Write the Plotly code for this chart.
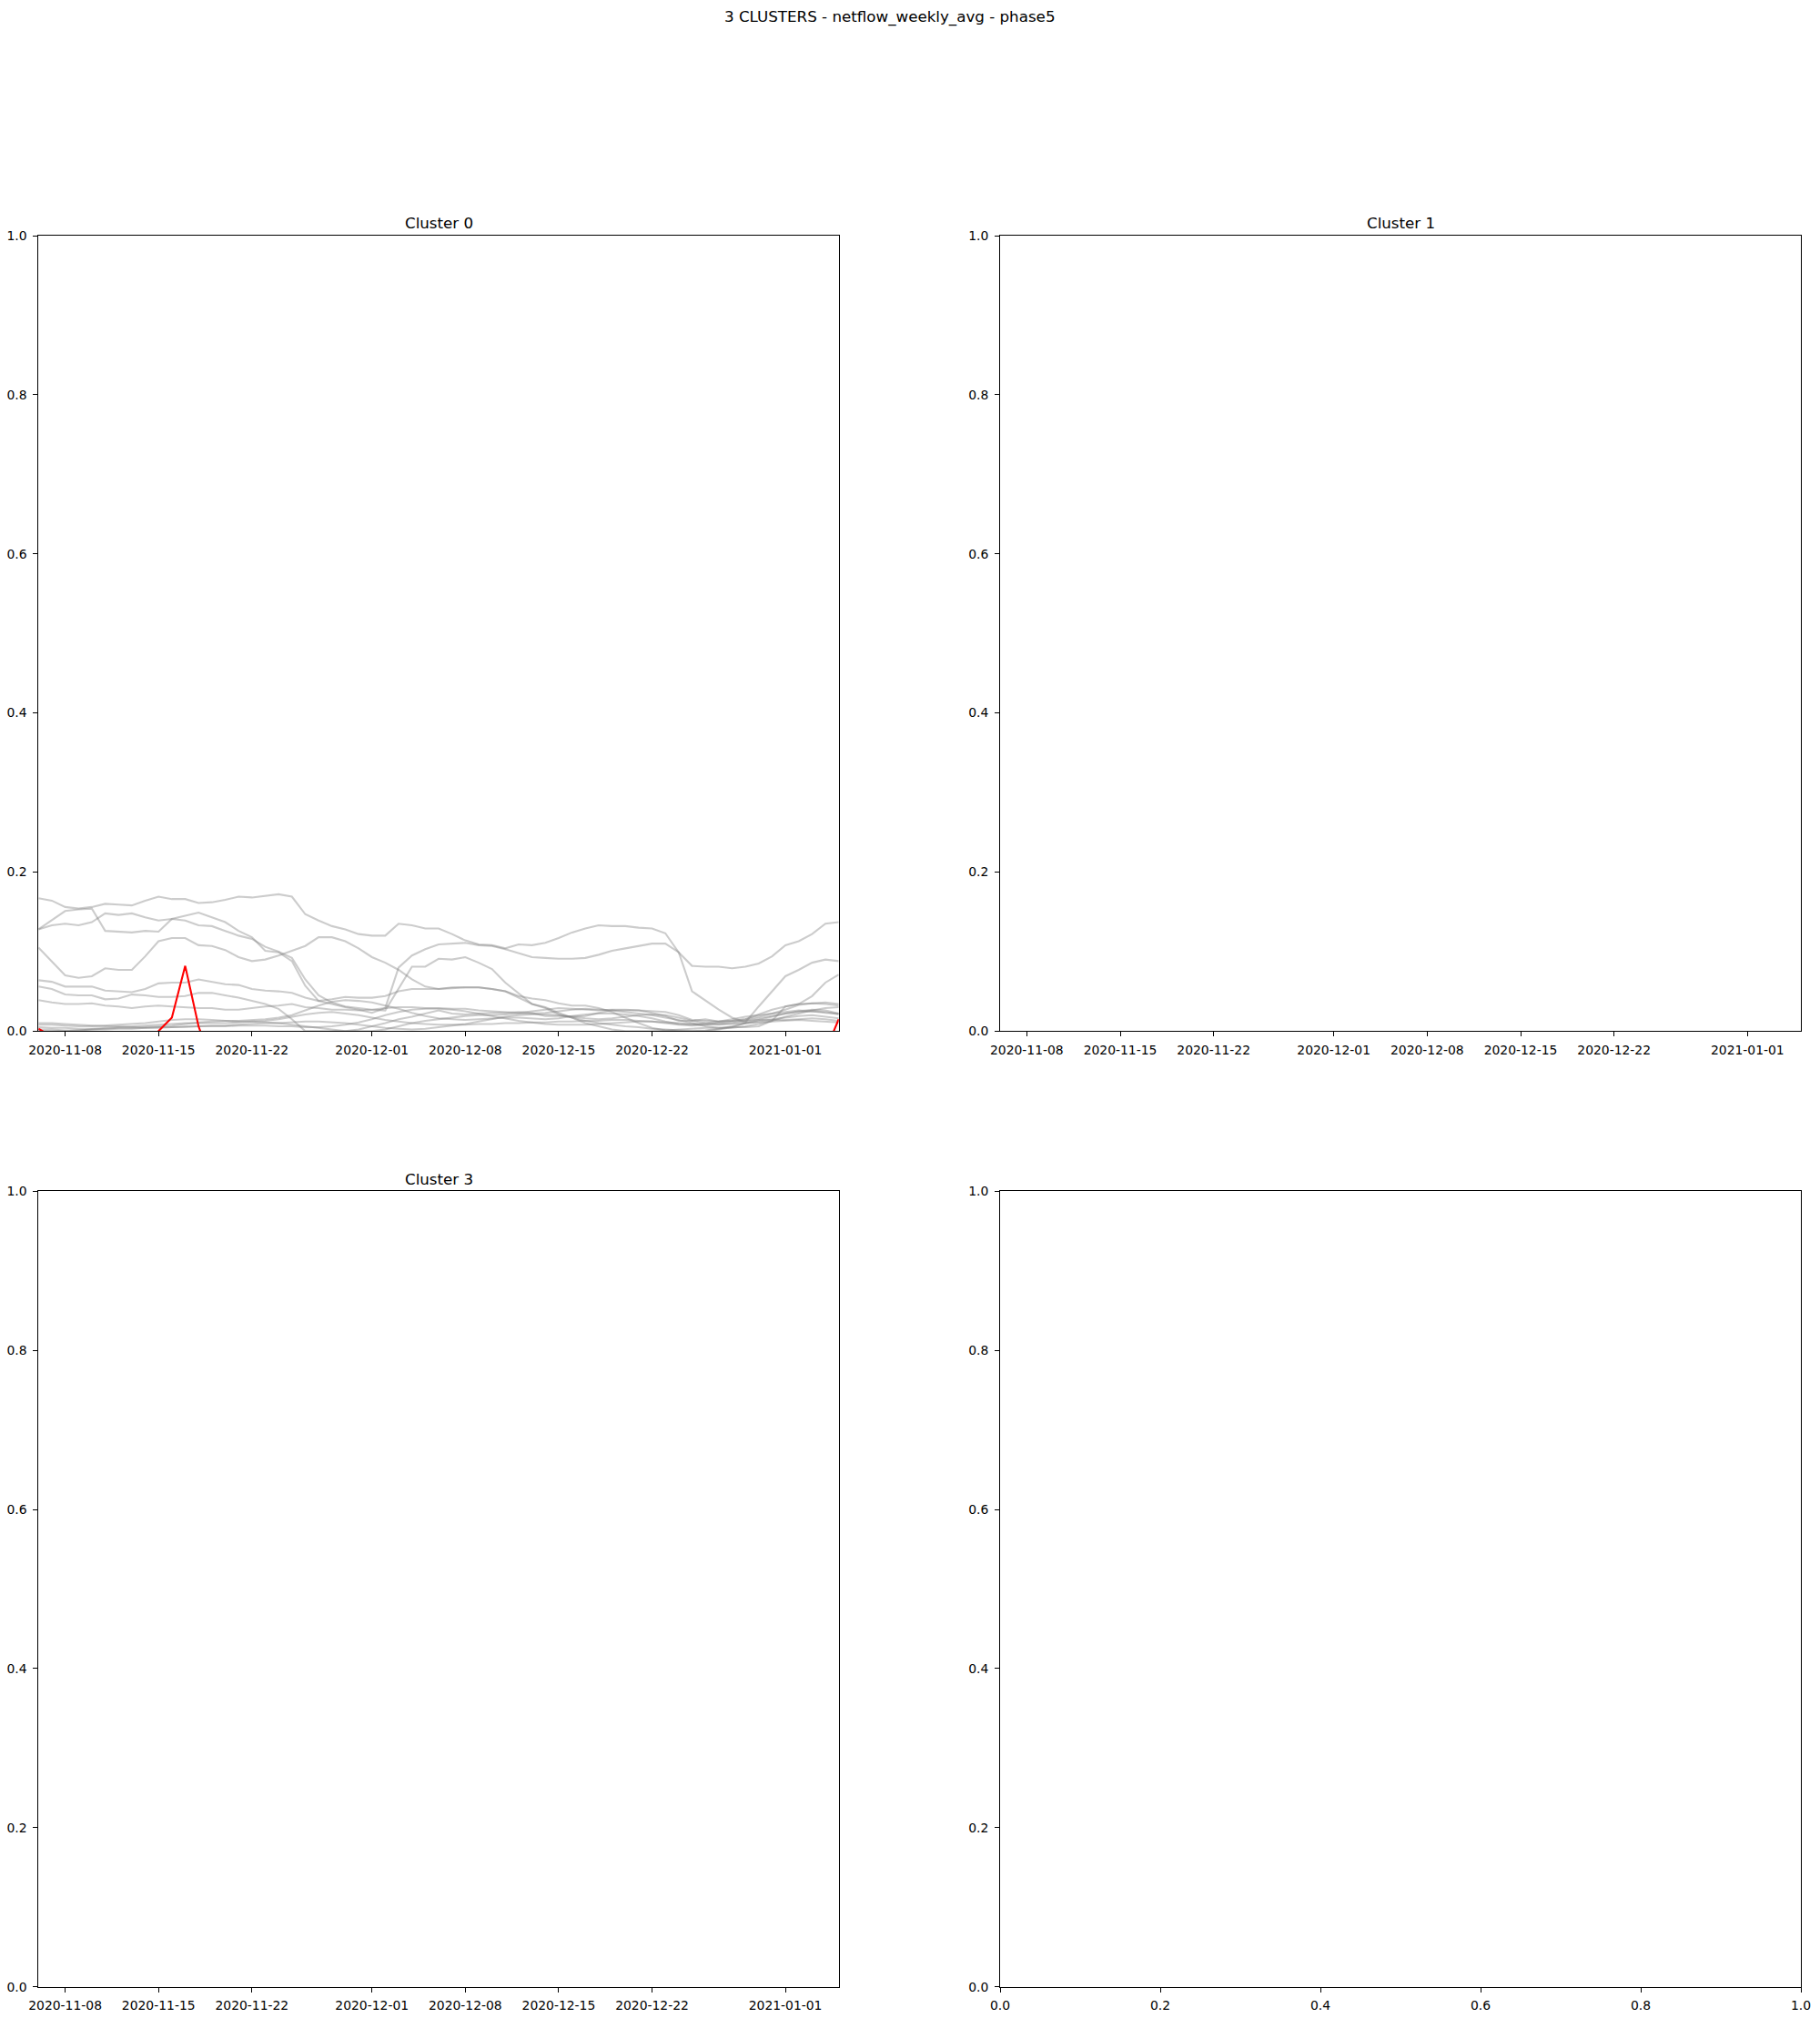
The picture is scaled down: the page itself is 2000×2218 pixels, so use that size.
import pandas as pd
import plotly.graph_objects as go

# ---------------- data ----------------
dates = pd.date_range("2020-11-06", "2021-01-05", freq="D")

series_a = [0.167,0.164,0.156,0.154,0.156,0.160,0.159,0.158,0.164,0.169,
            0.166,0.166,0.161,0.162,0.165,0.169,0.168,0.170,0.172,0.169,
            0.147,0.139,0.132,0.128,0.122,0.120,0.120,0.135,0.133,0.129,
            0.129,0.122,0.114,0.109,0.108,0.104,0.109,0.108,0.111,0.117,
            0.124,0.129,0.133,0.132,0.132,0.130,0.129,0.123,0.099,0.082,
            0.081,0.081,0.079,0.081,0.085,0.094,0.108,0.113,0.122,0.135,
            0.137]
series_b = [0.128,0.139,0.151,0.153,0.154,0.126,0.125,0.124,0.126,0.125,
            0.141,0.145,0.149,0.143,0.137,0.126,0.118,0.101,0.099,0.088,
            0.057,0.038,0.034,0.030,0.027,0.023,0.029,0.080,0.095,0.103,
            0.109,0.110,0.111,0.108,0.107,0.103,0.098,0.093,0.092,0.091,
            0.091,0.092,0.096,0.101,0.104,0.107,0.110,0.110,0.099,0.050,
            0.038,0.027,0.017,0.011,0.031,0.050,0.069,0.077,0.086,0.090,
            0.088]
series_b2 = [0.128,0.133,0.135,0.133,0.137,0.148,0.146,0.148,0.143,0.139,
             0.141,0.139,0.133,0.132,0.126,0.120,0.116,0.106,0.100,0.092,
             0.065,0.045,0.036,0.031,0.029,0.027,0.026,0.053,0.081,0.081,
             0.091,0.090,0.093,0.086,0.078,0.061,0.048,0.034,0.029,0.021,
             0.017,0.010,0.006,0.002,0.000,0.000,0.000,0.001,0.002,0.003,
             0.004,0.004,0.005,0.005,0.006,0.013,0.031,0.034,0.044,0.061,
             0.071]
series_c = [0.105,0.087,0.070,0.067,0.069,0.079,0.077,0.077,0.094,0.113,
            0.117,0.117,0.108,0.107,0.102,0.093,0.088,0.090,0.095,0.101,
            0.107,0.118,0.118,0.113,0.104,0.093,0.086,0.077,0.065,0.056,
            0.053,0.054,0.055,0.055,0.053,0.050,0.042,0.034,0.030,0.023,
            0.017,0.013,0.010,0.008,0.006,0.005,0.003,0.002,0.001,0.000,
            0.000,0.002,0.005,0.010,0.014,0.018,0.022,0.025,0.027,0.026,
            0.022]
series_d = [0.064,0.062,0.056,0.056,0.056,0.051,0.050,0.049,0.053,0.060,
            0.061,0.061,0.065,0.062,0.059,0.058,0.053,0.051,0.050,0.048,
            0.042,0.038,0.040,0.043,0.042,0.042,0.044,0.050,0.053,0.053,
            0.053,0.055,0.055,0.055,0.053,0.050,0.044,0.041,0.039,0.035,
            0.032,0.032,0.029,0.024,0.017,0.010,0.004,0.001,0.000,0.000,
            0.001,0.003,0.006,0.010,0.012,0.015,0.017,0.019,0.020,0.018,
            0.016]
series_e = [0.056,0.053,0.046,0.045,0.045,0.040,0.041,0.046,0.045,0.043,
            0.043,0.044,0.048,0.048,0.045,0.042,0.038,0.034,0.028,0.015,
            0.000,0.000,0.000,0.000,0.002,0.006,0.010,0.015,0.018,0.022,
            0.026,0.022,0.021,0.022,0.023,0.023,0.024,0.023,0.019,0.019,
            0.018,0.019,0.023,0.026,0.026,0.026,0.023,0.019,0.013,0.013,
            0.015,0.012,0.013,0.015,0.021,0.027,0.031,0.034,0.035,0.034,
            0.032]
series_f = [0.039,0.036,0.034,0.034,0.035,0.032,0.031,0.029,0.031,0.032,
            0.031,0.030,0.029,0.029,0.027,0.027,0.029,0.031,0.032,0.034,
            0.030,0.029,0.027,0.027,0.026,0.027,0.029,0.030,0.030,0.029,
            0.029,0.028,0.028,0.026,0.025,0.024,0.023,0.025,0.027,0.029,
            0.028,0.027,0.026,0.027,0.027,0.026,0.025,0.024,0.020,0.014,
            0.013,0.012,0.013,0.015,0.018,0.022,0.027,0.033,0.035,0.036,
            0.034]
series_g = [0.010,0.010,0.009,0.008,0.007,0.006,0.006,0.005,0.005,0.006,
            0.007,0.009,0.011,0.012,0.013,0.013,0.014,0.015,0.017,0.020,
            0.026,0.032,0.037,0.039,0.038,0.036,0.032,0.028,0.023,0.019,
            0.016,0.015,0.014,0.015,0.016,0.017,0.017,0.016,0.015,0.016,
            0.019,0.021,0.022,0.022,0.021,0.019,0.016,0.012,0.009,0.008,
            0.010,0.012,0.015,0.018,0.020,0.022,0.024,0.026,0.025,0.023,
            0.022]
series_h = [0.008,0.008,0.007,0.006,0.006,0.007,0.008,0.009,0.010,0.012,
            0.014,0.015,0.015,0.014,0.013,0.012,0.012,0.011,0.010,0.008,
            0.006,0.004,0.002,0.000,0.000,0.000,0.002,0.006,0.010,0.013,
            0.015,0.017,0.019,0.020,0.020,0.021,0.022,0.022,0.023,0.025,
            0.027,0.028,0.027,0.026,0.024,0.022,0.020,0.017,0.014,0.010,
            0.006,0.004,0.004,0.006,0.009,0.013,0.018,0.022,0.026,0.029,
            0.030]
series_i = [0.005,0.004,0.004,0.003,0.003,0.004,0.005,0.006,0.007,0.008,
            0.009,0.010,0.010,0.010,0.010,0.011,0.012,0.013,0.015,0.018,
            0.021,0.023,0.024,0.022,0.020,0.017,0.014,0.012,0.010,0.009,
            0.008,0.008,0.008,0.009,0.009,0.010,0.010,0.011,0.011,0.012,
            0.012,0.013,0.013,0.014,0.014,0.013,0.012,0.010,0.008,0.007,
            0.008,0.010,0.012,0.013,0.014,0.014,0.014,0.015,0.016,0.015,
            0.013]
series_j = [0.002,0.002,0.001,0.001,0.002,0.003,0.004,0.004,0.004,0.005,
            0.005,0.006,0.006,0.007,0.007,0.008,0.009,0.010,0.010,0.011,
            0.012,0.012,0.011,0.010,0.008,0.006,0.004,0.003,0.002,0.003,
            0.005,0.007,0.009,0.012,0.015,0.018,0.020,0.021,0.021,0.020,
            0.018,0.016,0.015,0.016,0.018,0.020,0.021,0.020,0.017,0.013,
            0.010,0.009,0.010,0.013,0.016,0.019,0.022,0.024,0.025,0.024,
            0.021]
series_k = [0.000,0.000,0.000,0.001,0.002,0.002,0.003,0.003,0.004,0.004,
            0.005,0.005,0.006,0.006,0.006,0.007,0.007,0.007,0.006,0.006,
            0.005,0.005,0.006,0.008,0.011,0.015,0.020,0.024,0.027,0.028,
            0.028,0.027,0.025,0.022,0.019,0.016,0.013,0.011,0.009,0.008,
            0.008,0.008,0.009,0.010,0.011,0.012,0.012,0.011,0.010,0.009,
            0.008,0.008,0.009,0.010,0.011,0.012,0.013,0.014,0.013,0.012,
            0.011]
centroid = [0.003,-0.007,-0.022,-0.030,-0.034,-0.036,-0.035,-0.030,-0.020,0.000,
            0.017,0.082,0.006,-0.040,-0.045,-0.048,-0.050,-0.052,-0.050,-0.048,
            -0.050,-0.055,-0.058,-0.060,-0.062,-0.060,-0.058,-0.055,-0.052,-0.050,
            -0.048,-0.047,-0.046,-0.048,-0.050,-0.052,-0.053,-0.054,-0.055,-0.056,
            -0.057,-0.056,-0.055,-0.054,-0.053,-0.055,-0.058,-0.060,-0.062,-0.063,
            -0.062,-0.060,-0.058,-0.055,-0.050,-0.045,-0.040,-0.035,-0.030,-0.025,
            0.015]

gray_series = [series_a, series_b, series_b2, series_c, series_d, series_e,
               series_f, series_g, series_h, series_i, series_j, series_k]

date_ticks = ["2020-11-08", "2020-11-15", "2020-11-22", "2020-12-01",
              "2020-12-08", "2020-12-15", "2020-12-22", "2021-01-01"]
num_ticks = [0.0, 0.2, 0.4, 0.6, 0.8, 1.0]
num_tick_labels = ["0.0", "0.2", "0.4", "0.6", "0.8", "1.0"]
subplot_titles = ["Cluster 0", "Cluster 1", "Cluster 3"]
main_title = "3 CLUSTERS - netflow_weekly_avg - phase5"

# ---------------- figure ----------------
W, H = 2000, 2218
FONT = "DejaVu Sans"
fig = go.Figure()

for s in gray_series:
    fig.add_trace(go.Scatter(x=dates, y=s, mode="lines",
                             line=dict(color="rgba(128,128,128,0.4)", width=2.1),
                             xaxis="x", yaxis="y", hoverinfo="skip"))
fig.add_trace(go.Scatter(x=dates, y=centroid, mode="lines",
                         line=dict(color="red", width=2.1),
                         xaxis="x", yaxis="y", hoverinfo="skip"))

# empty subplots (no data) - traces with no points so the axes are drawn
for xa, ya in [("x2", "y2"), ("x3", "y3"), ("x4", "y4")]:
    fig.add_trace(go.Scatter(x=[], y=[], mode="lines", xaxis=xa, yaxis=ya,
                             hoverinfo="skip"))

col_l = [42.3 / W, 921.7 / W]
col_r = [1099.0 / W, 1979.0 / W]
row_t = [1 - 1133.3 / H, 1 - 259.0 / H]
row_b = [1 - 2183.7 / H, 1 - 1309.4 / H]

date_range = ["2020-11-06", "2021-01-05"]

common_axis = dict(showline=True, linecolor="black", linewidth=1.1, mirror=True,
                   ticks="outside", ticklen=4.9, tickwidth=1.1, tickcolor="black",
                   showgrid=False, zeroline=False, automargin=False,
                   tickfont=dict(family=FONT, size=13.9, color="black"))

def date_x(domain, anchor):
    return dict(common_axis, type="date", domain=domain, anchor=anchor,
                range=date_range, tickvals=date_ticks, ticktext=date_ticks,
                ticklabelstandoff=3)

def num_y(domain, anchor):
    return dict(common_axis, domain=domain, anchor=anchor, range=[0, 1],
                tickvals=num_ticks, ticktext=num_tick_labels, ticklabelstandoff=4)

fig.update_layout(
    width=W, height=H, margin=dict(l=0, r=0, t=0, b=0, autoexpand=False),
    paper_bgcolor="white", plot_bgcolor="white", showlegend=False,
    font=dict(family=FONT, color="black"),
    xaxis=date_x(col_l, "y"),
    yaxis=num_y(row_t, "x"),
    xaxis2=date_x(col_r, "y2"),
    yaxis2=num_y(row_t, "x2"),
    xaxis3=date_x(col_l, "y3"),
    yaxis3=num_y(row_b, "x3"),
    xaxis4=dict(common_axis, domain=col_r, anchor="y4", range=[0, 1],
                tickvals=num_ticks, ticktext=num_tick_labels, ticklabelstandoff=3),
    yaxis4=num_y(row_b, "x4"),
)

annotations = [
    dict(text=main_title, x=978.3 / W, y=1 - 19 / H, xref="paper", yref="paper",
         xanchor="center", yanchor="middle", showarrow=False,
         font=dict(family=FONT, size=16.7, color="black")),
]
title_pos = [(sum(col_l) / 2, 1 - 245.5 / H), (sum(col_r) / 2, 1 - 245.5 / H),
             (sum(col_l) / 2, 1 - 1296 / H)]
for t, (tx, ty) in zip(subplot_titles, title_pos):
    annotations.append(dict(text=t, x=tx, y=ty, xref="paper", yref="paper",
                            xanchor="center", yanchor="middle", showarrow=False,
                            font=dict(family=FONT, size=16.7, color="black")))
fig.update_layout(annotations=annotations)

fig.write_html("out.html",
               post_script="document.body.style.margin='0';document.body.style.padding='0';")
